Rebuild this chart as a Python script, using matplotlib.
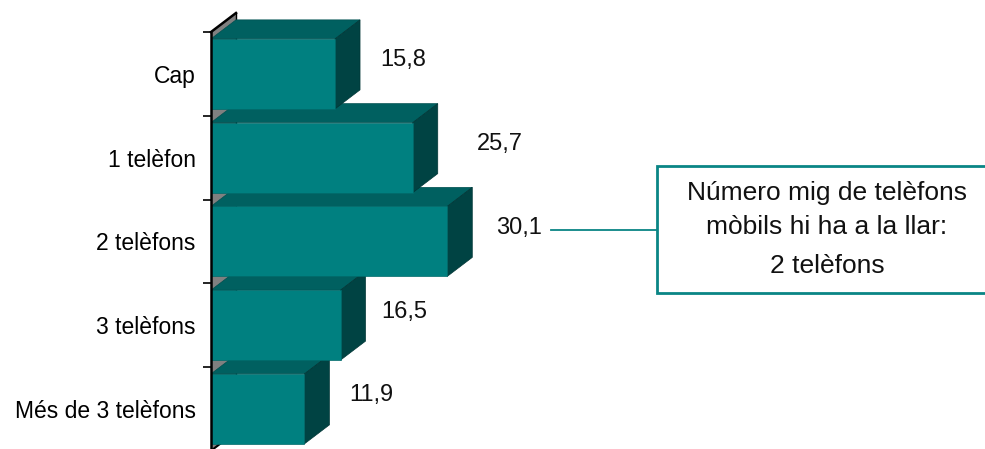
import matplotlib
matplotlib.use("Agg")
import matplotlib.pyplot as plt
from matplotlib.patches import Polygon, Rectangle
from matplotlib.lines import Line2D

plt.rcParams['font.family'] = ['Liberation Sans', 'DejaVu Sans']

categories = ["Cap", "1 telèfon", "2 telèfons", "3 telèfons", "Més de 3 telèfons"]
values = [15.8, 25.7, 30.1, 16.5, 11.9]
value_labels = ["15,8", "25,7", "30,1", "16,5", "11,9"]
note_lines = ["Número mig de telèfons", "mòbils hi ha a la llar:", "2 telèfons"]

W, H = 985, 449
fig = plt.figure(figsize=(W / 100, H / 100), dpi=100)

x0_px = 211
px_per_unit = 7.85
band_px = 83.75
top_px = 32

ax = fig.add_axes([x0_px / W, 0, 1 - x0_px / W, 1])
ax.set_xlim(0, (W - x0_px) / px_per_unit)
ytop = -0.5 - top_px / band_px
ybot = -0.5 + (H - top_px) / band_px
ax.set_ylim(ybot, ytop)
for s in ax.spines.values():
    s.set_visible(False)
ax.set_xticks([])

n = len(categories)
ax.set_yticks(range(n))
ax.set_yticklabels(categories, fontsize=16.5)
ax.tick_params(axis='y', which='major', length=0, pad=11)
ax.set_yticks([i - 0.5 for i in range(n)], minor=True)
ax.tick_params(axis='y', which='minor', length=6, width=1.2, color='black')

front_c = '#008080'
top_c = '#006060'
side_c = '#004343'
wall_c = '#808080'

dx = 25 / px_per_unit
dy = 19 / band_px
h = 70 / band_px
floor = n - 0.5

# back wall
ax.add_patch(Polygon([(0, -0.5), (dx, -0.5 - dy), (dx, floor - dy), (0, floor)],
                     closed=True, facecolor=wall_c, edgecolor='none', zorder=1, clip_on=False))
ax.add_line(Line2D([dx, dx], [-0.5 - dy, floor - dy], color='black', lw=1.0, zorder=1.5))

label_dx_px = [20, 39, 24, 16, 20]
for i in reversed(range(n)):
    v = values[i]
    t = i - h / 2
    b = i + h / 2
    z = 2 + (n - i)
    ax.add_patch(Polygon([(0, t), (dx, t - dy), (v + dx, t - dy), (v, t)], closed=True,
                         facecolor=top_c, edgecolor='#004f4f', lw=0.5, zorder=z))
    ax.add_patch(Polygon([(v, t), (v + dx, t - dy), (v + dx, b - dy), (v, b)], closed=True,
                         facecolor=side_c, edgecolor='#003535', lw=0.5, zorder=z))
    ax.add_patch(Rectangle((0, t), v, h, facecolor=front_c, edgecolor='#006a6a', lw=0.5, zorder=z))
    ax.text(v + dx + label_dx_px[i] / px_per_unit, i - 0.16, value_labels[i],
            ha='left', va='center', fontsize=17, color='#111111', zorder=20)

# axis line, wall top edge and floor edge
ax.add_line(Line2D([0, 0], [-0.5, floor], color='black', lw=1.8, zorder=30, clip_on=False))
ax.add_line(Line2D([0, dx], [-0.5, -0.5 - dy], color='black', lw=1.8, zorder=30, clip_on=False))
ax.add_line(Line2D([0, dx], [floor, floor - dy], color='black', lw=1.5, zorder=1.6, clip_on=False))

# annotation: connector + box
teal = '#0a8585'
fig.add_artist(Line2D([551 / W, 657 / W], [1 - 230 / H, 1 - 230 / H], color=teal, lw=1.3))
fig.add_artist(Rectangle((657 / W, 1 - 293 / H), 340 / W, 127 / H, transform=fig.transFigure,
                         facecolor='white', edgecolor=teal, lw=2))
note_y_px = [193, 227, 266]
for k, line in enumerate(note_lines):
    fig.text(827 / W, 1 - note_y_px[k] / H, line, ha='center', va='center',
             fontsize=19, color='#111111')

fig.savefig('out.png', dpi=100)
